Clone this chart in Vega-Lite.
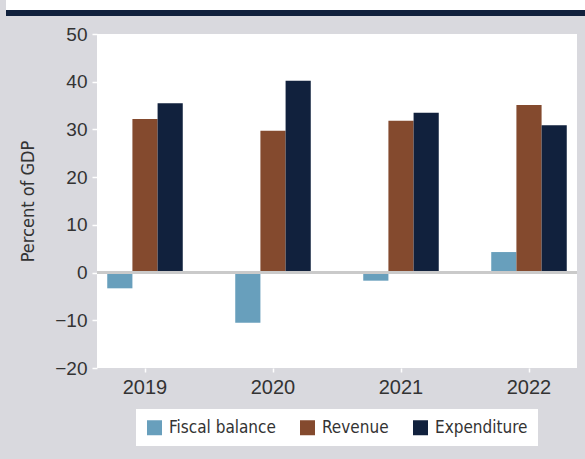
{
  "$schema": "https://vega.github.io/schema/vega-lite/v6.json",
  "background": "#d9d9de",
  "padding": {"left": 1, "top": 0, "right": 0, "bottom": 14},
  "spacing": 9,
  "config": {
    "view": {"stroke": null},
    "font": "DejaVu Sans Condensed"
  },
  "vconcat": [
    {
      "spacing": 0,
      "vconcat": [
        {
          "width": 488, "height": 10,
          "view": {"fill": "white", "stroke": null},
          "data": {"values": []},
          "mark": {"type": "point", "opacity": 0},
          "encoding": {
            "y": {"field": "v", "type": "quantitative", "scale": {"domain": [0, 1]},
              "axis": {"values": [0.5], "tickSize": 91, "tickWidth": 10, "tickColor": "white", "translate": 0, "labels": false, "domain": false, "grid": false, "title": null}}
          }
        },
        {
          "width": 488, "height": 6,
          "view": {"fill": "#11213d", "stroke": null},
          "data": {"values": []},
          "mark": {"type": "point", "opacity": 0},
          "encoding": {
            "y": {"field": "v", "type": "quantitative", "scale": {"domain": [0, 1]},
              "axis": {"values": [0.5], "tickSize": 91, "tickWidth": 6, "tickColor": "#11213d", "translate": 0, "labels": false, "domain": false, "grid": false, "title": null}}
          }
        }
      ]
    },
    {
      "width": 480,
      "height": 334,
      "view": {"fill": "white", "stroke": null},
      "data": {
        "values": [
          {"year": "2019", "series": "Fiscal balance", "value": -3.3},
          {"year": "2019", "series": "Revenue", "value": 32.2},
          {"year": "2019", "series": "Expenditure", "value": 35.5},
          {"year": "2020", "series": "Fiscal balance", "value": -10.5},
          {"year": "2020", "series": "Revenue", "value": 29.7},
          {"year": "2020", "series": "Expenditure", "value": 40.2},
          {"year": "2021", "series": "Fiscal balance", "value": -1.7},
          {"year": "2021", "series": "Revenue", "value": 31.8},
          {"year": "2021", "series": "Expenditure", "value": 33.5},
          {"year": "2022", "series": "Fiscal balance", "value": 4.3},
          {"year": "2022", "series": "Revenue", "value": 35.1},
          {"year": "2022", "series": "Expenditure", "value": 30.9}
        ]
      },
      "layer": [
        {
          "mark": {"type": "bar"},
          "encoding": {
            "x": {
              "field": "year",
              "type": "nominal",
              "scale": {"paddingInner": 0.41, "paddingOuter": 0.08},
              "axis": {
                "title": null,
                "labelAngle": 0,
                "labelFont": "Liberation Sans",
                "labelFontSize": 20,
                "labelColor": "#333333",
                "tickColor": "white",
                "tickSize": 4,
                "tickWidth": 1.5,
                "domain": false,
                "labelPadding": 5
              }
            },
            "xOffset": {
              "field": "series",
              "sort": ["Fiscal balance", "Revenue", "Expenditure"],
              "scale": {"paddingInner": 0, "paddingOuter": 0}
            },
            "y": {
              "field": "value",
              "type": "quantitative",
              "scale": {"domain": [-20, 50], "nice": false},
              "axis": {
                "title": ["", "Percent of GDP"],
                "titleLineHeight": 16,
                "titleFont": "DejaVu Sans Condensed",
                "titleFontSize": 18,
                "titleFontWeight": "normal",
                "titleColor": "#333333",
                "titlePadding": 17,
                "values": [-20, -10, 0, 10, 20, 30, 40, 50],
                "labelFont": "Liberation Sans",
                "labelFontSize": 19,
                "labelColor": "#333333",
                "tickColor": "white",
                "tickSize": 5,
                "tickWidth": 1.5,
                "labelPadding": 5,
                "domain": false,
                "grid": false
              }
            },
            "color": {
              "field": "series",
              "type": "nominal",
              "sort": ["Fiscal balance", "Revenue", "Expenditure"],
              "scale": {
                "domain": ["Fiscal balance", "Revenue", "Expenditure"],
                "range": ["#689fbc", "#844a2e", "#11213d"]
              },
              "legend": {
                "title": null,
                "orient": "none",
                "direction": "horizontal",
                "legendX": 39,
                "legendY": 409,
                "fillColor": "white",
                "padding": 10,
                "symbolType": "square",
                "symbolSize": 225,
                "symbolStrokeWidth": 0,
                "labelOffset": 6,
                "columnPadding": 23,
                "labelFont": "DejaVu Sans Condensed",
                "labelFontSize": 17,
                "labelColor": "#333333",
                "labelLimit": 300
              }
            }
          }
        },
        {
          "mark": {"type": "rule", "color": "#cacaca", "strokeWidth": 2.5},
          "encoding": {"y": {"datum": 0}}
        }
      ]
    }
  ]
}
